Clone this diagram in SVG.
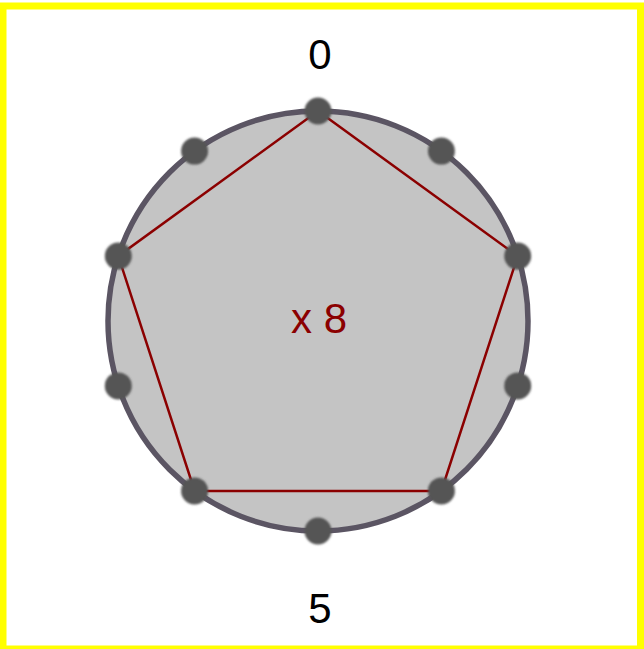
<svg xmlns="http://www.w3.org/2000/svg" width="644" height="649" viewBox="0 0 644 649">
<style>
.lbl{font-family:"Liberation Sans",Arial,sans-serif;font-size:42px;text-anchor:middle;fill:#000}
.dot{fill:#555555;filter:url(#soft)}
.edge{stroke:#8b0000;stroke-width:2.5;fill:none}
</style>
<defs>
<filter id="soft" x="-30%" y="-30%" width="160%" height="160%"><feGaussianBlur stdDeviation="0.9"/></filter>
</defs>
<rect x="3" y="6" width="637.5" height="643" fill="#ffffff" stroke="#ffff00" stroke-width="7"/>
<g id="ring"><circle cx="318" cy="321" r="210" fill="#c4c4c4" stroke="#5b5563" stroke-width="5.5"/></g>
<g id="connectors">
<polygon class="edge" points="318,111 517.7,256.1 441.4,490.9 194.6,490.9 118.3,256.1"/>
</g>
<g id="n0"><circle class="dot" cx="318" cy="111" r="13.5"/></g>
<g id="n1"><circle class="dot" cx="441.4" cy="151.1" r="13.5"/></g>
<g id="n2"><circle class="dot" cx="517.7" cy="256.1" r="13.5"/></g>
<g id="n3"><circle class="dot" cx="517.7" cy="385.9" r="13.5"/></g>
<g id="n4"><circle class="dot" cx="441.4" cy="490.9" r="13.5"/></g>
<g id="n5"><circle class="dot" cx="318" cy="531" r="13.5"/></g>
<g id="n6"><circle class="dot" cx="194.6" cy="490.9" r="13.5"/></g>
<g id="n7"><circle class="dot" cx="118.3" cy="385.9" r="13.5"/></g>
<g id="n8"><circle class="dot" cx="118.3" cy="256.1" r="13.5"/></g>
<g id="n9"><circle class="dot" cx="194.6" cy="151.1" r="13.5"/></g>
<g id="labels">
<text class="lbl" x="320" y="69">0</text>
<text class="lbl" x="320" y="623">5</text>
<text class="lbl" x="319" y="333" style="fill:#8b0000">x 8</text>
</g>
</svg>
